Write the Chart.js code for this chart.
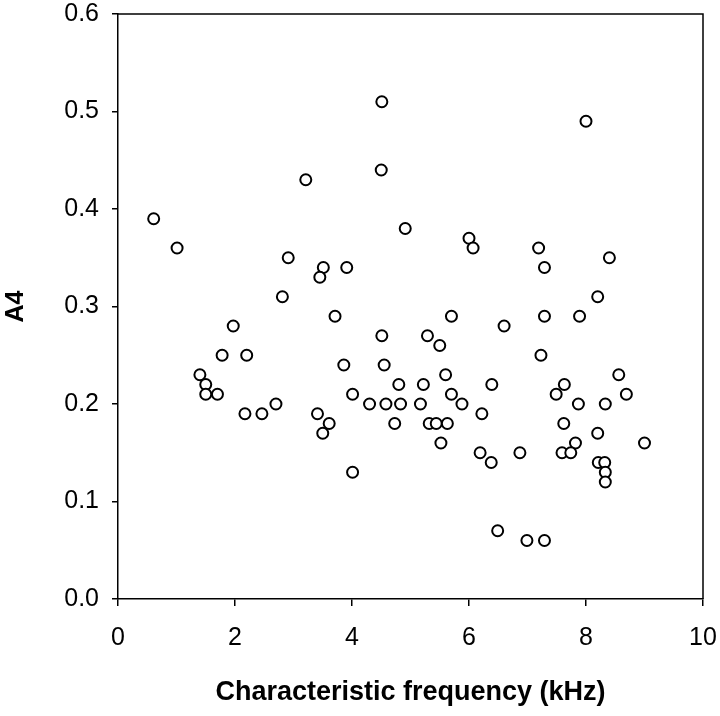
<!DOCTYPE html>
<html>
<head>
<meta charset="utf-8">
<script src="https://cdn.jsdelivr.net/npm/chart.js@4/dist/chart.umd.min.js"></script>
<style>
html,body{margin:0;padding:0;background:#fff;}
#wrap{width:720px;height:716px;position:relative;}
</style>
</head>
<body>
<div id="wrap"><canvas id="c" width="720" height="716"></canvas></div>
<script>
// Characteristic frequency (kHz)
const freqKHz = [
  0.61, 1.01, 4.51, 4.50, 3.21, 4.91, 2.91, 3.51, 3.45, 3.91,
  2.81, 8.00, 6.00, 6.07, 7.19, 7.29, 8.40, 8.20, 3.71, 1.97,
  4.51, 1.78, 2.20, 1.40, 3.86, 4.55, 1.50, 1.50, 1.70, 4.80,
  4.01, 2.17, 2.46, 2.70, 4.30, 4.58, 4.83, 3.41, 3.61, 3.50,
  4.73, 4.01, 5.70, 7.29, 7.89, 6.60, 5.29, 5.50, 7.23, 5.60,
  8.56, 5.22, 6.39, 7.63, 5.70, 7.49, 8.69, 5.17, 5.88, 7.87,
  8.33, 6.22, 5.32, 5.44, 5.63, 7.62, 8.20, 5.52, 7.82, 9.00,
  6.19, 6.87, 7.59, 7.74, 6.38, 8.21, 8.32, 8.33, 8.33, 6.49,
  6.99, 7.29
];
// A4 values
const a4Values = [
  0.39, 0.36, 0.51, 0.44, 0.43, 0.38, 0.35, 0.34, 0.33, 0.34,
  0.31, 0.49, 0.37, 0.36, 0.36, 0.34, 0.35, 0.31, 0.29, 0.28,
  0.27, 0.25, 0.25, 0.23, 0.24, 0.24, 0.22, 0.21, 0.21, 0.22,
  0.21, 0.19, 0.19, 0.20, 0.20, 0.20, 0.20, 0.19, 0.18, 0.17,
  0.18, 0.13, 0.29, 0.29, 0.29, 0.28, 0.27, 0.26, 0.25, 0.23,
  0.23, 0.22, 0.22, 0.22, 0.21, 0.21, 0.21, 0.20, 0.20, 0.20,
  0.20, 0.19, 0.18, 0.18, 0.18, 0.18, 0.17, 0.16, 0.16, 0.16,
  0.15, 0.15, 0.15, 0.15, 0.14, 0.14, 0.14, 0.13, 0.12, 0.07,
  0.06, 0.06
];
const xTicks = [0, 2, 4, 6, 8, 10];
const yTicks = [0.0, 0.1, 0.2, 0.3, 0.4, 0.5, 0.6];
const xTitle = 'Characteristic frequency (kHz)';
const yTitle = 'A4';

const points = freqKHz.map((x, i) => ({x: x, y: a4Values[i]}));

const FONT = "'Liberation Sans', Arial, Helvetica, sans-serif";

const framePlugin = {
  id: 'frame',
  afterDatasetsDraw(chart) {
    const a = chart.chartArea, ctx = chart.ctx;
    ctx.save();
    ctx.strokeStyle = '#000';
    ctx.lineWidth = 1.5;
    ctx.beginPath();
    ctx.moveTo(a.left, a.top);
    ctx.lineTo(a.right, a.top);
    ctx.lineTo(a.right, a.bottom);
    ctx.stroke();
    ctx.restore();
  }
};

function noPad(s) {
  s.paddingTop = 0; s.paddingBottom = 0; s.paddingLeft = 0; s.paddingRight = 0;
}

new Chart(document.getElementById('c'), {
  type: 'scatter',
  data: {
    datasets: [{
      data: points,
      pointRadius: 5.5,
      pointHoverRadius: 5.5,
      pointBorderWidth: 2,
      pointBorderColor: '#000',
      pointBackgroundColor: '#fff'
    }]
  },
  options: {
    responsive: false,
    animation: false,
    events: [],
    layout: {padding: {top: 14, right: 17, left: 0, bottom: 0}},
    plugins: {legend: {display: false}, tooltip: {enabled: false}},
    scales: {
      x: {
        type: 'linear',
        min: 0, max: 10,
        afterFit(s) { s.height = 117; noPad(s); },
        afterBuildTicks(s) { s.ticks = xTicks.map(v => ({value: v})); },
        border: {display: true, color: '#000', width: 1.5},
        grid: {display: true, drawOnChartArea: false, drawTicks: true, tickLength: 7, color: '#000', lineWidth: 1.5},
        ticks: {color: '#000', font: {family: FONT, size: 25}, padding: 17, maxRotation: 0,
                callback: v => String(v)},
        title: {display: true, text: xTitle, color: '#000',
                font: {family: FONT, size: 27, weight: 'bold'}, padding: {top: 0, bottom: 7}}
      },
      y: {
        type: 'linear',
        min: 0, max: 0.6,
        afterFit(s) { s.width = 118; noPad(s); },
        afterBuildTicks(s) { s.ticks = yTicks.map(v => ({value: v})); },
        border: {display: true, color: '#000', width: 1.5},
        grid: {display: true, drawOnChartArea: false, drawTicks: true, tickLength: 6, color: '#000', lineWidth: 1.5},
        ticks: {color: '#000', font: {family: FONT, size: 25}, padding: 13,
                callback: v => Number(v).toFixed(1)},
        title: {display: true, text: yTitle, color: '#000',
                font: {family: FONT, size: 25, weight: 'bold'}, padding: {top: 1, bottom: 0}}
      }
    }
  },
  plugins: [framePlugin]
});
</script>
</body>
</html>
